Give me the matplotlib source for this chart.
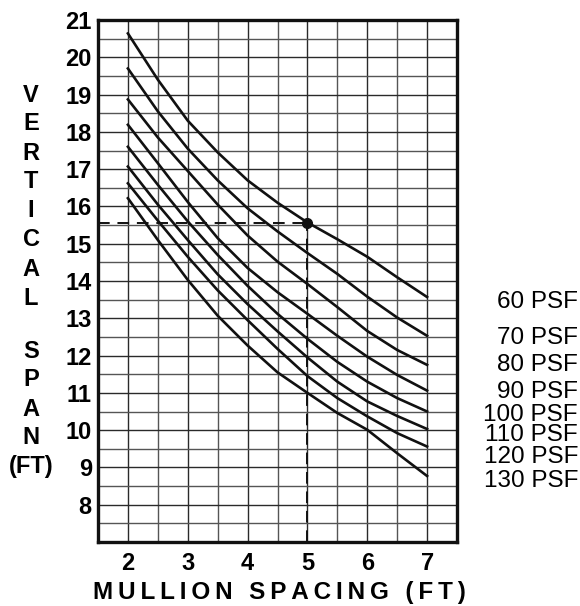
import matplotlib
matplotlib.use("Agg")
import matplotlib.pyplot as plt
import matplotlib.transforms as mtransforms

# mullion spacing (ft) where each curve was read
spacing = [2, 2.5, 3, 3.5, 4, 4.5, 5, 5.5, 6, 6.5, 7]

# vertical span (ft), one list per wind load
span_60 = [20.64, 19.40, 18.30, 17.45, 16.70, 16.10, 15.57, 15.12, 14.65, 14.10, 13.57]
span_70 = [19.70, 18.55, 17.55, 16.70, 15.95, 15.33, 14.75, 14.19, 13.58, 13.02, 12.53]
span_80 = [18.87, 17.85, 16.95, 16.05, 15.22, 14.52, 13.92, 13.30, 12.66, 12.15, 11.75]
span_90 = [18.19, 17.16, 16.12, 15.15, 14.35, 13.70, 13.12, 12.53, 11.97, 11.48, 11.06]
span_100 = [17.60, 16.58, 15.60, 14.70, 13.87, 13.12, 12.45, 11.83, 11.30, 10.86, 10.50]
span_110 = [17.07, 16.05, 15.10, 14.18, 13.38, 12.65, 11.95, 11.30, 10.77, 10.38, 10.03]
span_120 = [16.62, 15.62, 14.65, 13.75, 12.95, 12.18, 11.45, 10.86, 10.37, 9.92, 9.56]
span_130 = [16.22, 15.10, 14.03, 13.07, 12.27, 11.55, 11.00, 10.46, 10.01, 9.38, 8.77]

curves = [span_60, span_70, span_80, span_90, span_100, span_110, span_120, span_130]
load_labels = ["60 PSF", "70 PSF", "80 PSF", "90 PSF", "100 PSF", "110 PSF", "120 PSF", "130 PSF"]
label_y = [13.44, 12.46, 11.75, 11.03, 10.41, 9.87, 9.29, 8.64]

# example point marked with dashed guide lines
ex_x = 5
ex_y = 15.55

x_ticks = [2, 3, 4, 5, 6, 7]
y_ticks = list(range(8, 22))

fig = plt.figure(figsize=(5.8, 6.06), dpi=100)
ax = fig.add_axes([98 / 580, 1 - 542 / 606, (457 - 98) / 580, (542 - 20) / 606])

ax.set_xlim(1.5, 7.5)
ax.set_ylim(7, 21)

half_x = [1.5 + 0.5 * i for i in range(13)]
half_y = [7 + 0.5 * i for i in range(29)]
ax.set_xticks(half_x, minor=True)
ax.set_yticks(half_y, minor=True)
ax.set_xticks(x_ticks)
ax.set_yticks(y_ticks)
ax.grid(which="major", color="#2a2a2a", linewidth=1.0)
ax.grid(which="minor", color="#555555", linewidth=1.0)
ax.set_axisbelow(True)
ax.tick_params(which="both", length=0)
ax.tick_params(axis="y", pad=4.5)
ax.tick_params(axis="x", pad=7)
for lab in ax.get_xticklabels() + ax.get_yticklabels():
    lab.set_fontfamily("Liberation Sans")
    lab.set_fontweight("bold")
    lab.set_fontsize(17)

for s in ax.spines.values():
    s.set_linewidth(2.4)
    s.set_color("#111111")
    s.set_zorder(5)

for c in curves:
    ax.plot(spacing, c, color="#111111", linewidth=1.9, zorder=3)

ax.plot([1.5, ex_x], [ex_y, ex_y], color="#111111", linewidth=1.4, dashes=(6, 4), zorder=3)
ax.plot([ex_x, ex_x], [7, ex_y], color="#111111", linewidth=1.4, dashes=(6, 4), zorder=3)
ax.plot([ex_x], [ex_y], "o", color="#111111", markersize=7, zorder=4)

trans = mtransforms.blended_transform_factory(fig.transFigure, ax.transData)
for lab, yy in zip(load_labels, label_y):
    ax.text(578 / 580, yy, lab, transform=trans, ha="right", va="center",
            fontsize=17.5, family="Liberation Sans", clip_on=False)

# stacked letters of the vertical title
letters = ["V", "E", "R", "T", "I", "C", "A", "L", "S", "P", "A", "N", "(FT)"]
letter_py = [95, 124, 153, 182, 211, 240, 269, 298, 351, 380, 409, 438, 467]
for ch, py in zip(letters, letter_py):
    fig.text(31 / 580, 1 - py / 606, ch, ha="center", va="center",
             fontsize=17, fontweight="bold", family="Liberation Sans")

xlabel = "MULLION SPACING (FT)"
fig.text(279 / 580, 1 - 592 / 606, "\u2009".join(xlabel), ha="center", va="center",
         fontsize=17.5, fontweight="bold", family=["Liberation Sans", "DejaVu Sans"])

fig.savefig("out.png", dpi=100)
